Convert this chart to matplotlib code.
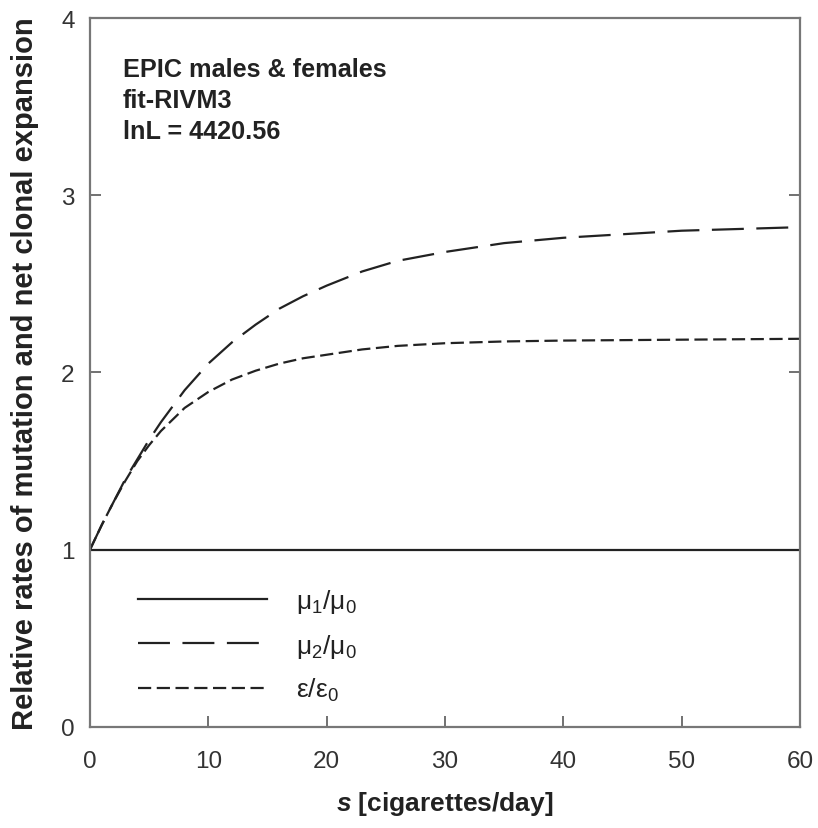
import matplotlib
matplotlib.use("Agg")
import matplotlib.pyplot as plt

plt.rcParams['font.family'] = ['Liberation Sans', 'DejaVu Sans']
plt.rcParams['mathtext.fontset'] = 'custom'
plt.rcParams['mathtext.rm'] = 'Liberation Sans'
plt.rcParams['mathtext.it'] = 'Liberation Sans:italic'
plt.rcParams['mathtext.bf'] = 'Liberation Sans:bold'
plt.rcParams['mathtext.bfit'] = 'Liberation Sans:italic:bold'
plt.rcParams['mathtext.default'] = 'regular'
plt.rcParams['lines.scale_dashes'] = False

# Data
s_mu1 = [0, 60]
mu1 = [1.0, 1.0]

s_mu2 = [0, 1, 2, 3, 4, 5, 6, 8, 10, 12, 14, 16, 18, 20, 23, 26, 30, 35, 40, 45, 50, 55, 60]
mu2 = [1.0, 1.14, 1.27, 1.40, 1.51, 1.62, 1.72, 1.90, 2.05, 2.17, 2.27, 2.36, 2.43, 2.49, 2.57, 2.63, 2.68, 2.73, 2.76, 2.78, 2.80, 2.81, 2.82]

s_eps = [0, 1, 2, 3, 4, 5, 6, 8, 10, 12, 14, 16, 18, 20, 23, 26, 30, 35, 40, 50, 60]
eps = [1.0, 1.14, 1.27, 1.39, 1.50, 1.59, 1.67, 1.80, 1.89, 1.96, 2.01, 2.05, 2.08, 2.10, 2.13, 2.15, 2.165, 2.175, 2.18, 2.185, 2.19]

labels = [r'$\mu_1/\mu_0$', r'$\mu_2/\mu_0$', r'$\varepsilon/\varepsilon_0$']
xticks = [0, 10, 20, 30, 40, 50, 60]
yticks = [0, 1, 2, 3, 4]

fig = plt.figure(figsize=(8.18, 8.29), dpi=100)
ax = fig.add_axes([0.110, 0.122, 0.868, 0.855])

lc = '#222222'
ax.plot(s_mu1, mu1, color=lc, lw=1.6, linestyle='-', label=labels[0])
ax.plot(s_mu2, mu2, color=lc, lw=1.6, linestyle=(0, (23, 9)), label=labels[1])
ax.plot(s_eps, eps, color=lc, lw=1.6, linestyle=(0, (9.5, 4)), label=labels[2])

ax.set_xlim(0, 60)
ax.set_ylim(0, 4)
ax.set_xticks(xticks)
ax.set_yticks(yticks)
ax.tick_params(direction='in', length=8, width=1.3, color='#666666',
               labelsize=17.5, labelcolor='#333333',
               right=True, top=False)
ax.tick_params(axis='x', pad=17)
ax.tick_params(axis='y', pad=11)
for sp in ax.spines.values():
    sp.set_color('#777777')
    sp.set_linewidth(1.6)

ax.set_ylabel('Relative rates of mutation and net clonal expansion',
              fontsize=21, fontweight='bold', color='#222222', labelpad=16)
ax.set_xlabel(r'$\mathbfit{s}$ [cigarettes/day]', fontsize=19,
              fontweight='bold', color='#222222', labelpad=12)

ax.text(0.046, 0.945, 'EPIC males & females\nfit-RIVM3\nlnL = 4420.56',
        transform=ax.transAxes, fontsize=18.2, fontweight='bold',
        color='#222222', va='top', ha='left', linespacing=1.38)

leg = ax.legend(loc='lower left', bbox_to_anchor=(0.034, 0.0), frameon=False,
                fontsize=19, handlelength=4.9, handletextpad=1.1,
                labelspacing=0.62, labelcolor='#222222')

fig.savefig('out.png', dpi=100)
